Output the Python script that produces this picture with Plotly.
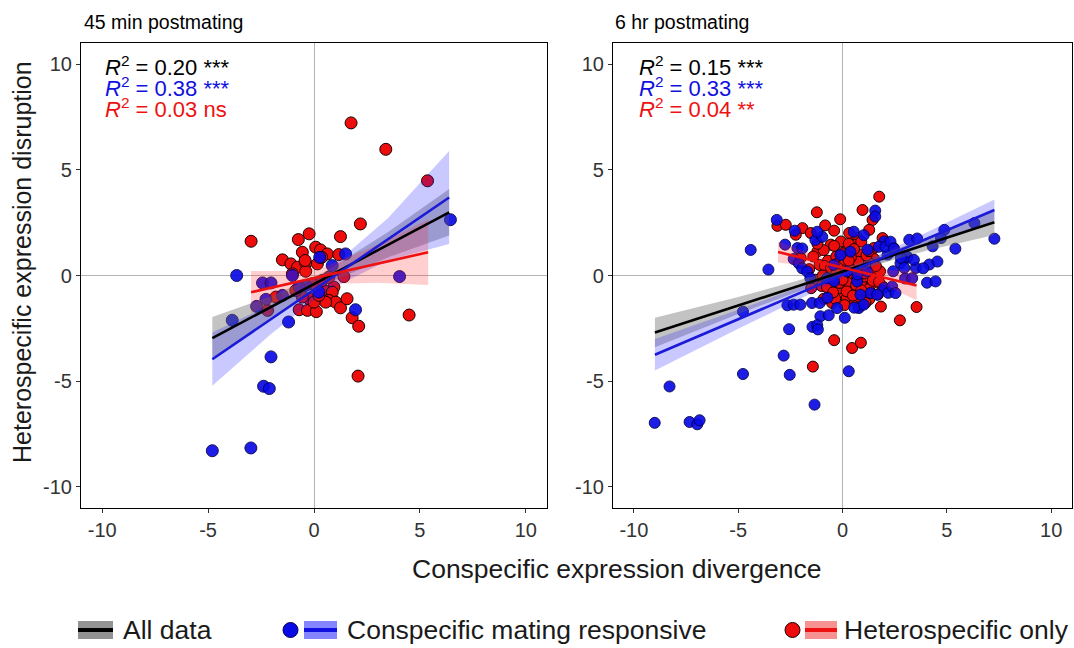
import plotly.graph_objects as go

# ---------------- data: 45 min postmating ----------------
red45_x = [1.75, 3.39, 5.36, 2.19, -2.97, -0.23, -0.74, 1.25, 0.08, 0.31, 0.63, 1.17, -0.55, -1.49, -1.09,
           -0.78, -0.39, 0.16, -1.02, -0.39, 1.41, 0.94, 0.47, 0.86, 0.70, 1.02, 1.25, 1.56, 0.55, -0.70,
           -0.31, 0.11, 1.80, 2.11, 4.49, 2.08, -0.23, 0.00, 0.23, -0.55, -0.86, -1.80, -2.19, -0.08, 0.39,
           0.70, -0.42, 0.36]
red45_y = [7.22, 5.97, 4.48, 2.44, 1.62, 1.97, 1.70, 1.84, 1.34, 1.21, 1.02, 0.99, 1.10, 0.74, 0.55,
           0.39, 0.58, 0.55, 0.08, 0.20, -0.05, -0.55, -0.71, -0.79, -1.18, -1.26, -1.53, -1.10, -1.26, -1.62,
           -1.65, -1.71, -2.00, -2.40, -1.87, -4.76, -1.10, -1.26, -0.94, -1.02, -0.71, -1.02, -1.65, -0.39, -0.24,
           -0.08, 0.71, 0.86]
blue45_x = [-4.80, -2.98, -2.38, -2.11, -2.03, -3.65, -2.43, -2.03, -2.27, -2.71, -3.86, -1.20, -1.02, 0.27,
            1.49, 0.86, 1.96, 4.04, -0.39, 0.23, -0.70, -1.49, 6.44]
blue45_y = [-8.29, -8.16, -5.24, -5.35, -3.85, 0.00, -0.35, -0.35, -1.13, -1.46, -2.12, -2.20, 0.00, 0.86,
            1.02, 0.47, -1.62, -0.05, -0.47, -0.79, -0.55, -0.94, 2.64]

# fitted lines and confidence bands
fit45_all_x = [-4.8, -2.0, 0.5, 3.5, 6.38]
fit45_all_y = [-2.96, -1.47, -0.14, 1.46, 2.99]
fit45_all_lo = [-3.96, -1.97, -0.44, 0.86, 1.89]
fit45_all_hi = [-1.96, -0.97, 0.16, 2.06, 4.09]
fit45_blue_x = [-4.8, -2.0, 0.5, 3.5, 6.38]
fit45_blue_y = [-3.96, -2.04, -0.33, 1.72, 3.69]
fit45_blue_lo = [-5.22, -2.74, -0.78, 0.72, 1.49]
fit45_blue_hi = [-2.70, -1.34, 0.12, 2.72, 5.89]
fit45_red_x = [-2.97, -1.0, 0.5, 3.0, 5.39]
fit45_red_y = [-0.79, -0.34, 0.00, 0.56, 1.10]
fit45_red_lo = [-1.79, -0.89, -0.40, -0.34, -0.45]
fit45_red_hi = [0.21, 0.21, 0.40, 1.46, 2.65]

# ---------------- data: 6 hr postmating ----------------
blue6_x = [-9.00, -8.29, -7.33, -6.96, -6.85, -4.77, -2.53, -2.82, -1.34, 0.30, -2.56, -1.44, -4.77, -4.40,
           -3.55, -3.15, -2.75, -2.29, -2.16, -2.64, 5.41, 6.32, 7.28, 4.88, 4.72, 4.32, 4.16, 4.05, 3.52,
           3.20, 3.09, 3.00, 1.57, 1.57, 2.00, 2.16, 2.00, 2.19,
           -2.34, -2.10, -1.93, -1.69, -1.54, -1.93, -1.30, -0.97, -1.21, -2.34, -2.02, -1.46, -1.09, -1.06,
           -0.66, 0.11, -0.26, -1.21, -1.18, 0.78, 1.02, 1.34, 1.66, 0.86, 1.74, 2.06, 2.30, 2.46, 2.78,
           3.10, 3.42, 3.34, 3.58, 3.87, 4.46, 4.55, 2.38, 2.54, -0.10, 0.38, -0.42, 0.22, -0.74, 0.70,
           1.18, 0.54, 1.02, 2.43, 2.80, 2.96, 0.56, -0.72, 1.20, 0.72, -0.40]
blue6_y = [-6.97, -5.25, -6.93, -7.04, -6.85, -4.66, -4.70, -3.79, -6.11, -4.53, -2.54, -2.43, -1.71, 1.21,
           0.28, 2.63, 1.46, 2.12, 1.30, -1.41, 1.27, 2.48, 1.74, 2.16, 1.77, 1.38, 0.52, -0.34, 0.36,
           1.69, 0.83, -0.14, 3.07, 2.79, 1.61, 0.99, -0.58, -0.82,
           0.78, 0.58, 0.34, 0.19, -0.13, 1.28, 1.68, 1.83, 2.07, -1.38, -1.38, -1.30, -1.30, -1.93,
           -1.88, -2.00, -1.54, -2.35, -2.55, -1.54, -1.38, -0.83, -0.91, -0.91, 1.36, 1.36, 1.60, 1.28, 0.58,
           0.89, 0.74, -0.13, 1.75, 0.34, -0.28, 0.66, -0.52, -0.83, 0.97, 1.13, 0.50, 0.19, -0.13, -0.28,
           0.19, 2.07, 1.91, 0.20, 0.83, 0.36, -1.52, -1.05, 1.22, 0.05, -0.27]
red6_x = [1.76, 0.96, -1.23, -0.11, 1.44, -3.12, -2.72, -0.83, -0.40, 1.28, -1.92, -2.24, -1.52, 0.32, 0.72,
          1.92, 2.45, 1.28, 1.84, 0.80, 3.55, 2.75, -0.40, 0.46, 0.88, -1.42, -2.00, -1.20, -0.56, -0.08,
          0.56, 1.04,
          -1.40, -1.10, -0.90, -0.70, -0.50, -0.30, -0.10, 0.10, 0.30, 0.50, 0.70, 0.90, 1.10, 1.30, 1.50,
          -1.30, -1.00, -0.80, -0.60, -0.40, -0.20, 0.00, 0.20, 0.40, 0.60, 0.80, 1.00, 1.20, 1.40, 1.60,
          -0.90, -0.50, 0.10, 0.60, 1.10, 1.80, 1.90, -1.60, -1.20, -0.40, 0.30, 0.90, 1.50, -0.65, 0.15,
          0.45, -0.15, 0.85, 1.25, -0.85, 0.05, 0.55, -0.35, 1.70, -1.50, 0.25, 0.75, -0.25, 1.05, 0.35,
          -0.55, 0.20, 0.95, 1.35, -0.05, 0.65, 1.15, -0.75, 0.40, 1.45, -0.30, 0.80, 0.10, 1.60, -0.95,
          0.50, 1.25, -0.15, 0.70, 1.05, 0.30, -0.45, 0.90, 1.75, 0.00]
red6_y = [3.73, 3.10, 2.99, 2.66, 2.63, 2.35, 2.40, 2.37, 2.12, 2.16, 2.24, 1.93, 2.01, 2.01, 1.77,
          1.77, 1.30, -1.13, -1.47, -1.47, -1.49, -2.12, -3.06, -3.43, -3.18, -4.31, 0.83, 1.14, 1.46, 1.61,
          1.46, 0.83,
          0.90, 0.50, 1.20, 0.70, 0.20, 0.90, 0.40, 1.10, 0.60, 0.90, 0.40, 1.00, 0.60, 0.30, 0.80,
          -0.20, -0.50, -0.10, -0.70, -0.30, -0.90, -0.40, -1.10, -0.60, -0.20, -0.80, -0.30, -0.90, -0.40, -0.10,
          -1.10, -1.30, -1.40, -1.20, -1.30, 0.20, -0.50, 0.30, 1.50, 1.40, 1.50, 1.60, 1.30, 0.05, 0.15,
          -0.10, -0.60, 0.25, -0.65, 0.45, 0.70, 1.25, -1.10, -0.90, -0.60, -0.35, 0.65, 0.55, -0.05, 0.30,
          0.35, -0.75, 0.15, 0.55, 1.05, -0.45, 0.95, -0.55, 0.85, -0.25, 0.10, -1.00, 0.75, 0.45, 0.00,
          -0.95, 1.15, -0.35, -0.15, 0.10, 0.70, -0.80, -0.70, -0.30, -0.20]

fit6_all_x = [-8.99, -5.0, 0.3, 4.0, 7.28]
fit6_all_y = [-2.70, -1.42, 0.28, 1.47, 2.52]
fit6_all_lo = [-3.40, -1.82, 0.13, 1.17, 1.92]
fit6_all_hi = [-2.00, -1.02, 0.43, 1.77, 3.12]
fit6_blue_x = [-8.99, -5.0, 0.3, 4.0, 7.28]
fit6_blue_y = [-3.75, -2.07, 0.16, 1.72, 3.10]
fit6_blue_lo = [-4.50, -2.52, 0.01, 1.42, 2.60]
fit6_blue_hi = [-3.00, -1.62, 0.31, 2.02, 3.60]
fit6_red_x = [-3.09, -1.5, 0.3, 2.0, 3.55]
fit6_red_y = [1.11, 0.73, 0.30, -0.10, -0.47]
fit6_red_lo = [0.61, 0.43, 0.15, -0.45, -1.17]
fit6_red_hi = [1.61, 1.03, 0.45, 0.25, 0.23]

panel_titles = ["45 min postmating", "6 hr postmating"]
r2_45 = [("0.20", "***"), ("0.38", "***"), ("0.03", "ns")]
r2_6 = [("0.15", "***"), ("0.33", "***"), ("0.04", "**")]
tick_vals = [-10, -5, 0, 5, 10]
tick_text = ["-10", "-5", "0", "5", "10"]
legend_labels = ["All data", "Conspecific mating responsive", "Heterospecific only"]

# ---------------- styling ----------------
FONT = "Liberation Sans, Arial, sans-serif"
RED = "#ee0d0d"
BLUE = "#0a0ae6"
W, H = 1074, 648

fig = go.Figure()


def add_panel(xa, ya, rx, ry, bx, by, fits, msize):
    fig.add_trace(go.Scatter(x=rx, y=ry, mode="markers", xaxis=xa, yaxis=ya, showlegend=False,
                             marker=dict(size=msize, color=RED, line=dict(color="#1a0000", width=1))))
    fig.add_trace(go.Scatter(x=bx, y=by, mode="markers", xaxis=xa, yaxis=ya, showlegend=False,
                             marker=dict(size=msize, color=BLUE, opacity=0.92,
                                         line=dict(color="#000050", width=1))))
    for fx, fy, lo, hi, fill, lc in fits:
        fig.add_trace(go.Scatter(x=fx + fx[::-1], y=hi + lo[::-1], mode="lines", fill="toself",
                                 fillcolor=fill, line=dict(width=0), xaxis=xa, yaxis=ya,
                                 showlegend=False, hoverinfo="skip"))
    for fx, fy, lo, hi, fill, lc in fits:
        fig.add_trace(go.Scatter(x=fx, y=fy, mode="lines", line=dict(color=lc, width=2.6),
                                 xaxis=xa, yaxis=ya, showlegend=False))


GRAY_FILL = "rgba(105,105,105,0.40)"
BLUE_FILL = "rgba(30,30,255,0.24)"
RED_FILL = "rgba(255,30,30,0.22)"

add_panel("x", "y", red45_x, red45_y, blue45_x, blue45_y, [
    (fit45_all_x, fit45_all_y, fit45_all_lo, fit45_all_hi, GRAY_FILL, "black"),
    (fit45_blue_x, fit45_blue_y, fit45_blue_lo, fit45_blue_hi, BLUE_FILL, "#1a1ad8"),
    (fit45_red_x, fit45_red_y, fit45_red_lo, fit45_red_hi, RED_FILL, "#ee1111"),
], 12)
add_panel("x2", "y2", red6_x, red6_y, blue6_x, blue6_y, [
    (fit6_all_x, fit6_all_y, fit6_all_lo, fit6_all_hi, GRAY_FILL, "black"),
    (fit6_blue_x, fit6_blue_y, fit6_blue_lo, fit6_blue_hi, BLUE_FILL, "#1a1ad8"),
    (fit6_red_x, fit6_red_y, fit6_red_lo, fit6_red_hi, RED_FILL, "#ee1111"),
], 11)

px_x = lambda p: p / W
px_y = lambda p: 1 - p / H

ydom = [px_y(508), px_y(43)]
axis_common = dict(range=[-11, 11], tickvals=tick_vals, ticktext=tick_text, ticks="outside", ticklen=4,
                   tickwidth=1, tickcolor="#333333", showline=True, linecolor="black", linewidth=1.2,
                   mirror=True, showgrid=False, zeroline=True, zerolinecolor="#b4b4b4", zerolinewidth=1,
                   tickfont=dict(family=FONT, size=20, color="#333333"))

fig.update_layout(
    width=W, height=H, margin=dict(l=0, r=0, t=0, b=0),
    paper_bgcolor="white", plot_bgcolor="white", showlegend=False,
    xaxis=dict(domain=[px_x(81), px_x(547)], anchor="y", **axis_common),
    yaxis=dict(domain=ydom, anchor="x", **axis_common),
    xaxis2=dict(domain=[px_x(613), px_x(1072)], anchor="y2", **axis_common),
    yaxis2=dict(domain=ydom, anchor="x2", **axis_common),
)

ann = []
# panel titles
for t, x0 in zip(panel_titles, [82, 613]):
    ann.append(dict(text=t, x=px_x(x0), y=px_y(22), xref="paper", yref="paper", xanchor="left",
                    yanchor="middle", showarrow=False, font=dict(family=FONT, size=19.5, color="black")))
# R^2 annotations
colors3 = ["black", "#1010e0", "#ee1111"]
for vals, x0 in [(r2_45, 103), (r2_6, 637)]:
    for i, ((v, s), c) in enumerate(zip(vals, colors3)):
        ann.append(dict(text=f"<i>R</i><sup>2</sup> = {v} {s}", x=px_x(x0), y=px_y(66 + 21 * i),
                        xref="paper", yref="paper", xanchor="left", yanchor="middle", showarrow=False,
                        font=dict(family=FONT, size=22, color=c)))
# axis titles
ann.append(dict(text="Conspecific expression divergence", x=px_x(617), y=px_y(569), xref="paper",
                yref="paper", xanchor="center", yanchor="middle", showarrow=False,
                font=dict(family=FONT, size=26.5, color="#1a1a1a")))
ann.append(dict(text="Heterospecific expression disruption", x=px_x(22), y=px_y(262), xref="paper",
                yref="paper", xanchor="center", yanchor="middle", showarrow=False, textangle=-90,
                font=dict(family=FONT, size=25, color="#1a1a1a")))
# legend labels
for t, x0 in zip(legend_labels, [121, 345, 842]):
    ann.append(dict(text=t, x=px_x(x0), y=px_y(630), xref="paper", yref="paper", xanchor="left",
                    yanchor="middle", showarrow=False, font=dict(family=FONT, size=26.5, color="#1a1a1a")))
fig.update_layout(annotations=ann)

# legend keys
shapes = []
key_specs = [(78, 113, "rgba(128,128,128,0.85)", "black", None),
             (304, 337, "rgba(120,120,255,0.9)", "#1010e0", (290.5, BLUE, "#000050")),
             (805, 837, "rgba(245,140,140,0.95)", "#ee1111", (792.5, RED, "#1a0000"))]
for x0, x1, fill, lc, dot in key_specs:
    shapes.append(dict(type="rect", xref="paper", yref="paper", x0=px_x(x0), x1=px_x(x1),
                       y0=px_y(639), y1=px_y(621), fillcolor=fill, line=dict(width=0)))
    shapes.append(dict(type="line", xref="paper", yref="paper", x0=px_x(x0), x1=px_x(x1),
                       y0=px_y(630), y1=px_y(630), line=dict(color=lc, width=4)))
    if dot:
        cx, fc, oc = dot
        shapes.append(dict(type="circle", xref="paper", yref="paper", x0=px_x(cx - 7.5), x1=px_x(cx + 7.5),
                           y0=px_y(637.5), y1=px_y(622.5), fillcolor=fc, line=dict(color=oc, width=1)))
fig.update_layout(shapes=shapes)

fig.write_html("out.html", config={"displayModeBar": False},
               post_script="document.body.style.margin='0';document.body.style.overflow='hidden';")
